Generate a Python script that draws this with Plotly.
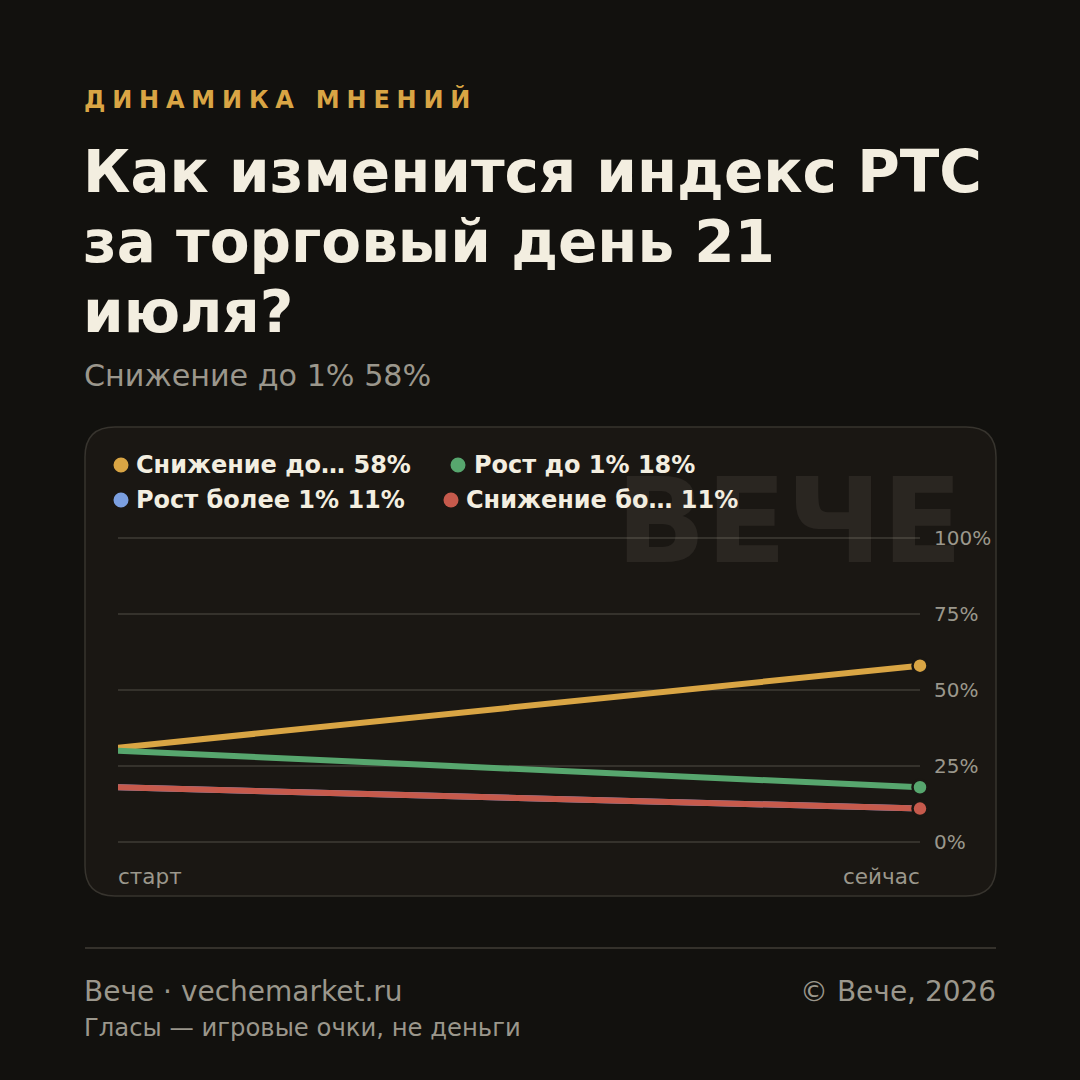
import plotly.graph_objects as go

# ---- data ----
series_names = ["Снижение до… 58%", "Рост до 1% 18%", "Рост более 1% 11%", "Снижение бо… 11%"]
series_colors = ["#d9a544", "#57a66e", "#7b9fe0", "#c65a4c"]
start_values = [31, 30, 18, 18]
now_values = [58, 18, 11, 11]
x_points = [0, 1]
x_labels = ["старт", "сейчас"]
y_ticks = [0, 25, 50, 75, 100]
y_tick_labels = ["0%", "25%", "50%", "75%", "100%"]

kicker = "ДИНАМИКА МНЕНИЙ"
title_lines = ["Как изменится индекс РТС", "за торговый день 21", "июля?"]
subtitle = "Снижение до 1% 58%"
footer_left = "Вече · vechemarket.ru"
footer_right = "© Вече, 2026"
footer_note = "Гласы — игровые очки, не деньги"
watermark = "ВЕЧЕ"

W = H = 1080
BG = "#12110e"
CARD = "#1a1713"
CARD_BORDER = "#37342e"
GRID = "#35322c"
TEXT = "#f3eee0"
MUTED = "#9b978c"
FONT = "DejaVu Sans"

def px(x):
    return x / W

def py(y):
    return 1 - y / H

# plot area: 0% at y=842px, 100% at y=538px
Y0_PX, Y100_PX = 842, 538
UNIT = (Y0_PX - Y100_PX) / 100.0
Y_RANGE = [-2, 102]

fig = go.Figure()

for name, color, s, e in zip(series_names, series_colors, start_values, now_values):
    fig.add_trace(go.Scatter(
        x=x_points, y=[s, e], mode="lines", name=name,
        line=dict(color=color, width=6), cliponaxis=False, hoverinfo="skip",
    ))
    fig.add_trace(go.Scatter(
        x=[x_points[-1]], y=[e], mode="markers", showlegend=False,
        marker=dict(color=color, size=15, line=dict(color=CARD, width=2.5)),
        cliponaxis=False, hoverinfo="skip",
    ))

shapes = []
x0, x1, y0, y1, r = 85, 996, 427, 896, 30
path = (f"M {px(x0 + r)},{py(y0)} L {px(x1 - r)},{py(y0)} "
        f"Q {px(x1)},{py(y0)} {px(x1)},{py(y0 + r)} "
        f"L {px(x1)},{py(y1 - r)} Q {px(x1)},{py(y1)} {px(x1 - r)},{py(y1)} "
        f"L {px(x0 + r)},{py(y1)} Q {px(x0)},{py(y1)} {px(x0)},{py(y1 - r)} "
        f"L {px(x0)},{py(y0 + r)} Q {px(x0)},{py(y0)} {px(x0 + r)},{py(y0)} Z")
shapes.append(dict(type="path", xref="paper", yref="paper", path=path,
                   fillcolor=CARD, line=dict(color=CARD_BORDER, width=1.5), layer="below"))
shapes.append(dict(type="line", xref="paper", yref="paper", x0=px(85), x1=px(996),
                   y0=py(948), y1=py(948), line=dict(color="#34312b", width=2), layer="below"))

legend_pos = [(121, 465, 134), (458, 465, 472), (121, 500, 134), (451, 500, 464)]
annotations = []
for (cx, cy, tx), name, color in zip(legend_pos, series_names, series_colors):
    rr = 7.5
    shapes.append(dict(type="circle", xref="paper", yref="paper",
                       x0=px(cx - rr), x1=px(cx + rr), y0=py(cy + rr), y1=py(cy - rr),
                       fillcolor=color, line=dict(width=0)))
    annotations.append(dict(text=f"<b>{name}</b>", x=px(tx), y=py(cy), xref="paper", yref="paper",
                            xanchor="left", yanchor="middle", showarrow=False,
                            font=dict(family=FONT, size=24, color=TEXT)))

annotations.append(dict(text=f"<b>{watermark}</b>", x=px(965), y=py(521), xref="paper", yref="paper",
                        xanchor="right", yanchor="middle", showarrow=False,
                        font=dict(family=FONT, size=118, color="rgba(240,232,215,0.075)")))

annotations.append(dict(text=f"<b><span style='letter-spacing:6.8px'>{kicker}</span></b>",
                        x=px(82), y=py(100), xref="paper", yref="paper",
                        xanchor="left", yanchor="middle", showarrow=False,
                        font=dict(family=FONT, size=24, color="#d9a544")))

for i, line in enumerate(title_lines):
    annotations.append(dict(text=f"<b>{line}</b>", x=px(81), y=py(172 + 70 * i), xref="paper", yref="paper",
                            xanchor="left", yanchor="middle", showarrow=False,
                            font=dict(family=FONT, size=58, color=TEXT)))

annotations.append(dict(text=subtitle, x=px(82), y=py(376), xref="paper", yref="paper",
                        xanchor="left", yanchor="middle", showarrow=False,
                        font=dict(family=FONT, size=30.2, color=MUTED)))

for v, lab in zip(y_ticks, y_tick_labels):
    annotations.append(dict(text=lab, x=px(932), y=v, xref="paper", yref="y",
                            xanchor="left", yanchor="middle", showarrow=False,
                            font=dict(family=FONT, size=20, color=MUTED)))

annotations.append(dict(text=x_labels[0], x=px(116), y=py(876), xref="paper", yref="paper",
                        xanchor="left", yanchor="middle", showarrow=False,
                        font=dict(family=FONT, size=21.5, color=MUTED)))
annotations.append(dict(text=x_labels[1], x=px(922), y=py(876), xref="paper", yref="paper",
                        xanchor="right", yanchor="middle", showarrow=False,
                        font=dict(family=FONT, size=21.5, color=MUTED)))

annotations.append(dict(text=footer_left, x=px(82), y=py(991), xref="paper", yref="paper",
                        xanchor="left", yanchor="middle", showarrow=False,
                        font=dict(family=FONT, size=28, color=MUTED)))
annotations.append(dict(text=footer_right, x=px(998), y=py(991), xref="paper", yref="paper",
                        xanchor="right", yanchor="middle", showarrow=False,
                        font=dict(family=FONT, size=28, color=MUTED)))
annotations.append(dict(text=footer_note, x=px(82), y=py(1027), xref="paper", yref="paper",
                        xanchor="left", yanchor="middle", showarrow=False,
                        font=dict(family=FONT, size=24.3, color=MUTED)))

fig.update_layout(
    width=W, height=H, margin=dict(l=0, r=0, t=0, b=0),
    paper_bgcolor=BG, plot_bgcolor="rgba(0,0,0,0)",
    showlegend=False, shapes=shapes, annotations=annotations,
    xaxis=dict(domain=[px(118), px(920)], range=[0, 1], showgrid=False, zeroline=False,
               showticklabels=False, fixedrange=True),
    yaxis=dict(domain=[py(Y0_PX - Y_RANGE[0] * UNIT), py(Y0_PX - Y_RANGE[1] * UNIT)],
               range=Y_RANGE, tickvals=y_ticks, showgrid=True,
               gridcolor=GRID, gridwidth=2, zeroline=False, showticklabels=False, fixedrange=True),
)

fig.write_html("out.html", config={"displayModeBar": False})
